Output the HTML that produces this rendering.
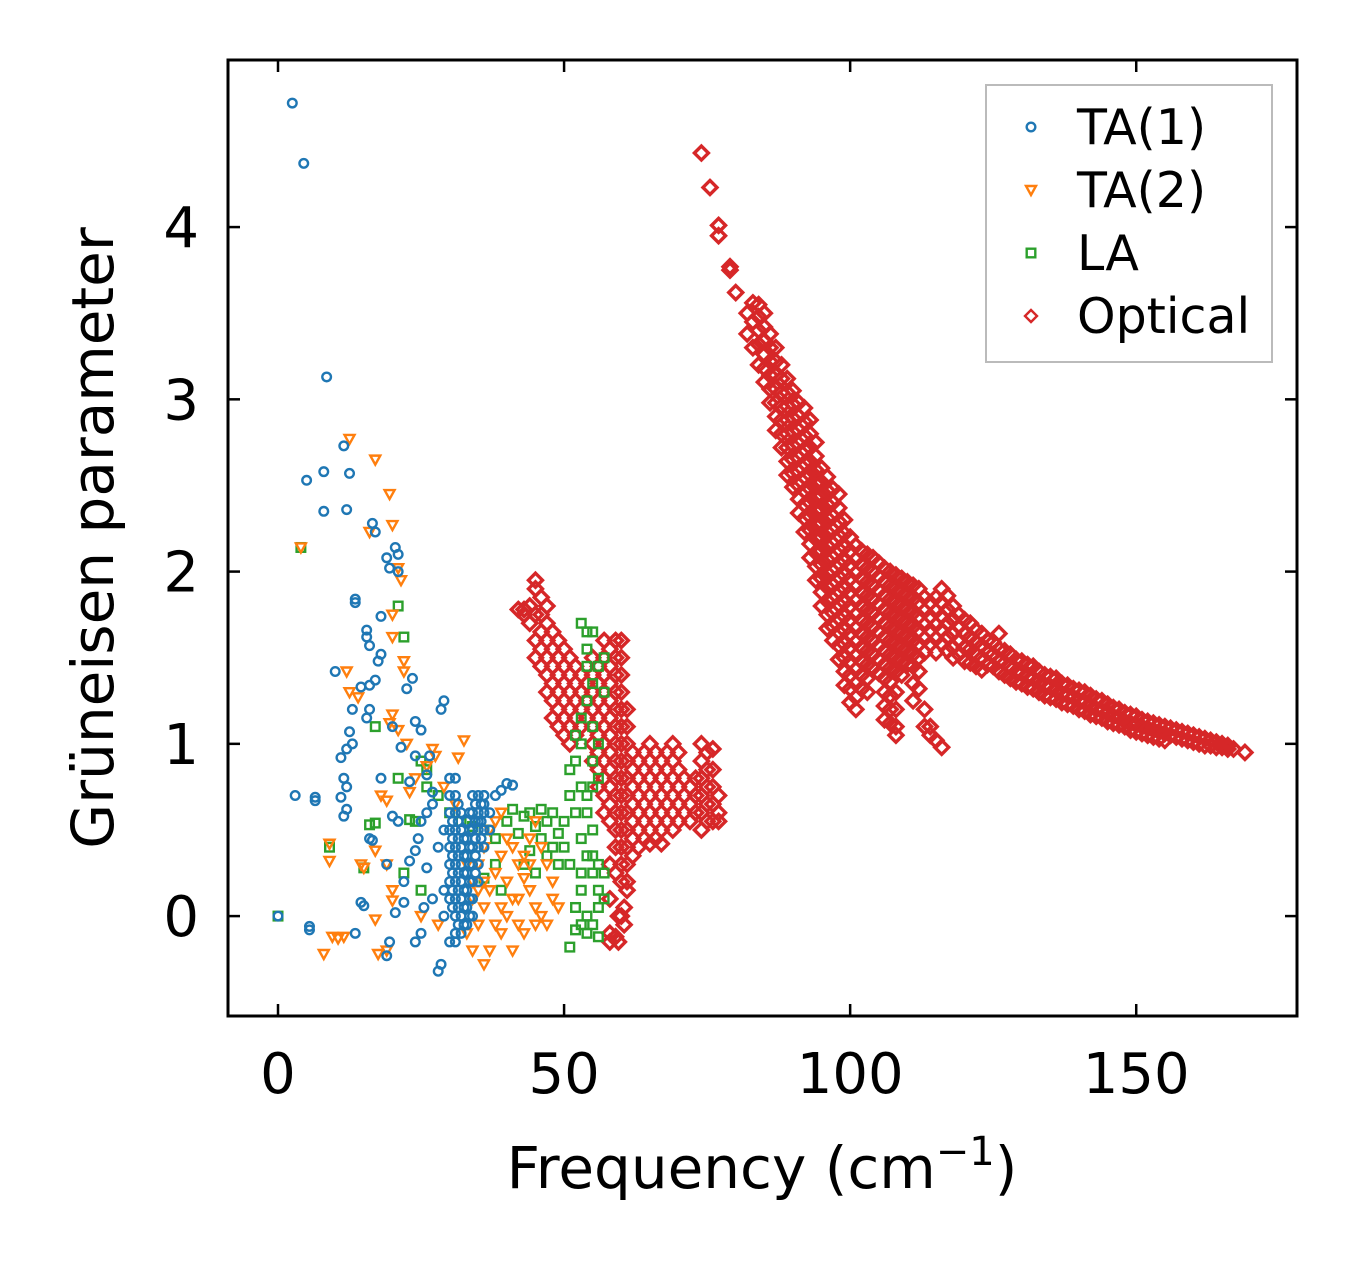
<!DOCTYPE html>
<html><head><meta charset="utf-8"><style>
html,body{margin:0;padding:0;background:#fff;}
svg{display:block;font-family:"DejaVu Sans","Liberation Sans",sans-serif;}
</style></head><body>
<svg id="chart" width="1357" height="1264" viewBox="0 0 1357 1264" xmlns="http://www.w3.org/2000/svg">
<rect width="1357" height="1264" fill="#fff"/>
<g id="marks"></g>
<rect x="228" y="60" width="1069" height="956" fill="none" stroke="#000" stroke-width="3"/>
<g id="axes"></g>
<text x="762" y="1188" font-size="58" text-anchor="middle">Frequency (cm<tspan dy="-23" font-size="40">−1</tspan><tspan dy="23">)</tspan></text>
<text transform="translate(113,538) rotate(-90)" font-size="58" text-anchor="middle">Grüneisen parameter</text>
<g>
<rect x="986" y="85" width="286" height="277" fill="#fff" stroke="#bbb" stroke-width="2"/>
<g id="legend-items"></g>
</g>
</svg>
<script>
const ticksX=[0,50,100,150];
const ticksY=[0,1,2,3,4];
const seriesNames=["TA(1)","TA(2)","LA","Optical"];
const ta1=[[2.5,4.72],[4.5,4.37],[8.5,3.13],[11.5,2.73],[12.5,2.57],[8,2.58],[5,2.53],[8,2.35],[12,2.36],[16.5,2.28],[17,2.23],[20.5,2.14],[21,2.1],[19,2.08],[19.5,2.02],[21,2.0],[13.5,1.84],[13.5,1.82],[18,1.74],[15.5,1.66],[15.5,1.62],[16,1.57],[18,1.52],[17.5,1.48],[10,1.42],[17,1.37],[16,1.34],[14.5,1.33],[23.5,1.38],[22.5,1.32],[29,1.25],[28.5,1.2],[13,1.2],[15.5,1.15],[16,1.2],[20,1.1],[24,1.13],[25,1.08],[12.5,1.07],[13,1.0],[12,0.97],[11,0.92],[21.5,0.98],[24,0.93],[26.5,0.93],[11.5,0.8],[12,0.75],[11,0.69],[12,0.62],[11.5,0.58],[3,0.7],[6.5,0.69],[6.5,0.67],[18,0.8],[23,0.78],[26,0.82],[27,0.72],[27,0.65],[26,0.6],[20,0.58],[21,0.55],[25,0.55],[16,0.45],[16.5,0.44],[24.5,0.45],[24,0.38],[26,0.28],[23,0.32],[19,0.3],[22,0.2],[22,0.08],[14.5,0.08],[15,0.06],[20.5,0.02],[27,0.1],[25.5,0.05],[5.5,-0.06],[5.5,-0.08],[13.5,-0.1],[19.5,-0.15],[19,-0.23],[25,-0.1],[24,-0.15],[28.5,-0.28],[28,-0.32],[30,-0.15],[31,-0.15],[0,0],[40,0.77],[41,0.76],[39,0.73],[38,0.7],[36,0.7],[36,0.65],[35,0.55],[29,0.5],[28,0.4],[29,0.15],[29,0.0]];
const ta1Cols=[[30,[0.1,0.2,0.3,0.4,0.5,0.6,0.7,0.8]],[30.5,[0.05,0.15,0.25,0.35,0.45,0.55]],[31,[-0.1,0.0,0.1,0.2,0.3,0.4,0.5,0.6,0.7,0.8]],[31.5,[-0.05,0.05,0.15,0.25,0.35,0.45,0.55,0.65]],[32,[-0.1,0.0,0.1,0.2,0.3,0.4,0.5,0.6]],[32.5,[-0.05,0.05,0.15,0.25,0.35,0.45]],[33,[-0.05,0.05,0.15,0.25,0.35,0.45,0.55]],[33.5,[0.0,0.1,0.2,0.3,0.4,0.5,0.6]],[34,[0.0,0.1,0.2,0.3,0.4,0.5,0.6,0.7]],[34.5,[0.25,0.35,0.45,0.55,0.65]],[35,[0.2,0.3,0.4,0.5,0.6,0.7]],[35.5,[0.45,0.55,0.65]],[36,[0.4,0.5,0.6,0.7]],[37,[0.5,0.6]]];
const ta2=[[12.5,2.77],[17,2.65],[19.5,2.45],[20,2.27],[16,2.23],[4,2.14],[21,2.02],[21.5,1.95],[20,1.75],[20,1.62],[22,1.48],[22,1.42],[12,1.42],[12.5,1.3],[14,1.27],[20,1.17],[19.5,1.12],[21,1.08],[22.5,1.0],[27,0.97],[27.5,0.93],[26,0.87],[24,0.8],[23,0.72],[18,0.7],[19,0.67],[29,0.75],[31,0.65],[32.5,1.02],[31.5,0.92],[9,0.42],[9,0.32],[17,0.38],[19,0.3],[14.5,0.3],[15,0.28],[20,0.15],[20,0.09],[25,0.0],[17,-0.02],[9.5,-0.12],[11.5,-0.12],[10.5,-0.13],[8,-0.22],[17.5,-0.22],[19,-0.2],[28,-0.05],[33,0.3],[34,0.2],[35,0.3],[36,0.4],[37,0.5],[38,0.55],[39,0.6],[40,0.45],[41,0.4],[42,0.3],[43,0.22],[44,0.15],[45,0.05],[46,0.0],[47,-0.05],[48,0.1],[36,-0.28],[37,-0.2],[39,-0.1],[41,-0.2],[43,-0.1],[45,-0.05],[34,0.1],[35,-0.05],[37,0.15],[38,0.25],[40,0.2],[39,0.05],[42,0.1],[36,0.05],[44,0.3],[46,0.4],[47,0.3],[44,0.45],[39,0.35],[33,-0.1],[34,-0.2],[38,-0.05],[40,0.0],[42,-0.05],[36,0.2],[35,0.15],[41,0.1],[43,0.35],[45,0.55],[48,0.2],[49,0.05]];
const la=[[4,2.14],[21,1.8],[22,1.62],[17,1.1],[25,0.9],[26,0.85],[16,0.53],[17,0.54],[23,0.56],[24,0.55],[21,0.8],[15,0.28],[22,0.25],[25,0.15],[9,0.4],[0,0],[28,0.7],[26,0.75],[30,0.6],[32,0.55],[34,0.52],[36,0.5],[38,0.45],[40,0.55],[41,0.62],[43,0.58],[42,0.48],[44,0.6],[46,0.62],[47,0.55],[48,0.6],[49,0.48],[45,0.52],[46,0.45],[44,0.38],[43,0.3],[45,0.25],[47,0.35],[48,0.4],[49,0.3],[50,0.4],[50,0.55],[51,0.7],[51,0.85],[52,0.9],[52,1.05],[53,1.0],[53,1.7],[54,1.65],[55,1.65],[54,1.55],[54,1.45],[55,1.35],[54,1.25],[53,1.15],[55,1.1],[56,1.0],[56,0.8],[55,0.75],[54,0.7],[54,0.6],[55,0.5],[53,0.45],[55,0.35],[55,0.25],[56,0.15],[57,0.1],[56,0.05],[54,0.0],[53,-0.05],[52,-0.08],[51,-0.18],[52,0.05],[53,0.15],[55,-0.05],[56,-0.12],[54,-0.1],[57,0.25],[56,0.3],[53,0.25],[54,0.35],[51,0.3],[52,0.6],[53,0.75],[57,1.3],[56,1.45],[57,1.5],[55,0.9],[36,0.22],[38,0.3],[39,0.15]];
const opticalCols=[[74,[4.43]],[75.5,[4.23]],[77,[4.01,3.95]],[79,[3.77,3.75]],[80,[3.62]],[82,[3.5,3.38]],[83,[3.56,3.45,3.3]],
[84,[3.55,3.48,3.4,3.32,3.2]],[85,[3.5,3.42,3.34,3.26,3.18,3.1]],[86,[3.38,3.3,3.22,3.14,3.06,2.98]],[87,[3.3,3.22,3.14,3.06,2.98,2.9,2.82]],[88,[3.2,3.12,3.04,2.96,2.88,2.8,2.72]],[89,[3.12,3.04,2.96,2.88,2.8,2.72,2.64,2.56]],[90,[3.05,2.97,2.89,2.81,2.73,2.65,2.57,2.49]],[91,[2.98,2.9,2.82,2.74,2.66,2.58,2.5,2.42,2.34]],[92,[2.95,2.87,2.79,2.71,2.63,2.55,2.47,2.39,2.31,2.23]],[93,[2.88,2.8,2.72,2.64,2.56,2.48,2.4,2.32,2.24,2.16,2.08]],[94,[2.75,2.67,2.59,2.51,2.43,2.35,2.27,2.19,2.11,2.03,1.95]],[95,[2.6,2.52,2.44,2.36,2.28,2.2,2.12,2.04,1.96,1.88,1.8]],[96,[2.55,2.47,2.39,2.31,2.23,2.15,2.07,1.99,1.91,1.83,1.75,1.67]],[97,[2.48,2.4,2.32,2.24,2.16,2.08,2.0,1.92,1.84,1.76,1.68,1.6]],[98,[2.45,2.37,2.29,2.21,2.13,2.05,1.97,1.89,1.81,1.73,1.65,1.57,1.49]],[99,[2.3,2.22,2.14,2.06,1.98,1.9,1.82,1.74,1.66,1.58,1.5,1.42,1.34]],[100,[2.2,2.12,2.04,1.96,1.88,1.8,1.72,1.64,1.56,1.48,1.4,1.32,1.24]],[101,[2.15,2.07,1.99,1.91,1.83,1.75,1.67,1.59,1.51,1.43,1.35,1.27,1.2]],[102,[2.12,2.04,1.96,1.88,1.8,1.72,1.64,1.56,1.48,1.4,1.32]],[103,[2.1,2.02,1.94,1.86,1.78,1.7,1.62,1.54,1.46,1.38,1.3]],[104,[2.08,2.0,1.92,1.84,1.76,1.68,1.6,1.52,1.44]],[105,[2.05,1.97,1.89,1.81,1.73,1.65,1.57,1.49,1.41]],[106,[2.02,1.94,1.86,1.78,1.7,1.62,1.54,1.46,1.38,1.3,1.22,1.14]],[107,[2.0,1.92,1.84,1.76,1.68,1.6,1.52,1.44,1.36,1.28,1.2,1.12]],[108,[1.98,1.9,1.82,1.74,1.66,1.58,1.5,1.42,1.3,1.2,1.1,1.05]],[109,[1.96,1.88,1.8,1.72,1.64,1.56,1.48,1.4]],[110,[1.94,1.86,1.78,1.7,1.62,1.54,1.46]],[111,[1.92,1.84,1.76,1.68,1.6,1.52,1.45,1.35,1.25]],[112,[1.9,1.82,1.74,1.66,1.58,1.5,1.42,1.32]],[113,[1.85,1.77,1.69,1.61,1.53,1.2,1.1]],[114,[1.82,1.74,1.66,1.58,1.1,1.05]],[115,[1.85,1.77,1.69,1.61,1.53,1.02]],[116,[1.9,1.82,1.74,1.66,1.58,0.98]],[117,[1.86,1.78,1.7,1.62,1.54]],[118,[1.8,1.72,1.64,1.56,1.5]],[119,[1.75,1.68,1.6,1.52]],[120,[1.72,1.64,1.56,1.48]],[121,[1.7,1.62,1.55,1.47]],[122,[1.66,1.59,1.52,1.45]],[123,[1.64,1.57,1.5,1.43]],[124,[1.6,1.53,1.46]],[125,[1.59,1.52,1.45]],[126,[1.64,1.55,1.48,1.42]],[127,[1.54,1.47,1.4]],[128,[1.52,1.45,1.38]],[129,[1.49,1.42,1.36]],[130,[1.48,1.41,1.35]],[131,[1.46,1.39,1.33]],[132,[1.45,1.38,1.32]],[133,[1.42,1.36,1.3]],[134,[1.4,1.34,1.28]],[135,[1.39,1.33,1.27]],[136,[1.38,1.31,1.26]],[137,[1.35,1.29,1.24]],[138,[1.34,1.28,1.23]],[139,[1.32,1.27,1.22]],[140,[1.31,1.25,1.2]],[141,[1.3,1.24,1.19]],[142,[1.28,1.22,1.17]],[143,[1.26,1.2,1.16]],[144,[1.25,1.19,1.15]],[145,[1.23,1.18,1.13]],[146,[1.21,1.16,1.12]],[147,[1.2,1.15,1.11]],[148,[1.18,1.13,1.1]],[149,[1.17,1.12,1.08]],[150,[1.16,1.11,1.07]],[151,[1.14,1.1,1.06]],[152,[1.13,1.09,1.05]],[153,[1.12,1.08,1.04]],[154,[1.11,1.07,1.03]],[155,[1.1,1.06,1.02]],[156,[1.09,1.05]],[157,[1.08,1.04]],[158,[1.07,1.03]],[159,[1.06,1.02]],[160,[1.05,1.01]],[161,[1.04,1.0]],[162,[1.03,0.99]],[163,[1.02,0.99]],[164,[1.01,0.98]],[165,[1.0,0.98]],[166,[0.99,0.97]],[167,[0.97]],[169,[0.95]],
[42,[1.78]],[43,[1.78,1.75]],[44,[1.8,1.7]],[45,[1.95,1.9,1.75,1.6,1.5]],[46,[1.85,1.75,1.65,1.55,1.45]],[47,[1.8,1.7,1.6,1.5,1.4,1.3]],[48,[1.65,1.55,1.45,1.35,1.25,1.15]],[49,[1.6,1.5,1.4,1.3,1.2,1.1]],[50,[1.55,1.45,1.35,1.25,1.15,1.05]],[51,[1.5,1.4,1.3,1.2,1.1,1.0]],[52,[1.45,1.35,1.25,1.15,1.05]],[53,[1.4,1.3,1.2,1.1]],[54,[1.35,1.25,1.15]],[55,[1.5,1.4,1.3,1.2,1.1,1.0,0.9]],[56,[1.45,1.35,1.25,1.15,1.05,0.95,0.85,0.75]],[57,[1.6,1.5,1.4,1.3,1.2,1.1,1.0,0.9,0.8,0.7,0.6]],[58,[1.55,1.45,1.35,1.25,1.15,1.05,0.95,0.85,0.75,0.65,0.55,0.3,0.1,-0.1,-0.15]],[59,[1.6,1.5,1.4,1.3,1.2,1.1,1.0,0.9,0.8,0.7,0.6,0.5,0.4,0.25,-0.12]],[60,[1.6,1.5,1.4,1.3,1.2,1.1,1.0,0.9,0.8,0.7,0.6,0.5,0.4,0.3,0.2,0.0]],[61,[1.2,1.1,1.0,0.9,0.8,0.7,0.6,0.5,0.4,0.3,0.2,0.15]],[62,[0.95,0.85,0.75,0.65,0.55,0.45,0.35]],[63,[0.9,0.8,0.7,0.6,0.5,0.4]],[64,[0.95,0.85,0.75,0.65,0.55,0.45]],[65,[1.0,0.9,0.8,0.7,0.6,0.5,0.42]],[66,[0.95,0.85,0.75,0.65,0.55,0.45]],[67,[0.9,0.8,0.7,0.6,0.5,0.42]],[68,[0.95,0.85,0.75,0.65,0.55]],[69,[1.0,0.9,0.8,0.7,0.6,0.5]],[70,[0.95,0.85,0.75,0.65,0.55]],[71,[0.8,0.7,0.6]],[72,[0.75,0.65,0.55]],[73,[0.8,0.7,0.6]],[74,[1.0,0.9,0.8,0.7,0.6,0.5]],[75,[0.95,0.85,0.75,0.65,0.55]],[76,[0.97,0.85,0.75,0.65,0.55]],[77,[0.7,0.6,0.55]],[59.5,[-0.15,0.0]],[60.5,[0.05,-0.05]]];

const NS="http://www.w3.org/2000/svg";
const X0=228,X1=1297,Y0=60,Y1=1016;
const xMin=-8.74,xMax=178.1,yMin=-0.58,yMax=4.97;
function sx(v){return X0+(v-xMin)/(xMax-xMin)*(X1-X0);}
function sy(v){return Y1-(v-yMin)/(yMax-yMin)*(Y1-Y0);}
function mk(tag,attrs,parent){const e=document.createElementNS(NS,tag);for(const k in attrs)e.setAttribute(k,attrs[k]);parent.appendChild(e);return e;}
const colors=["#1f77b4","#ff7f0e","#2ca02c","#d62728"];
function marker(kind,cx,cy,parent,name,big){
  let e;
  const c=colors[kind];
  if(kind===0) e=mk("circle",{cx:cx,cy:cy,r:4.3,fill:"none",stroke:c,"stroke-width":2.4},parent);
  else if(kind===1) e=mk("polygon",{points:`${cx-5},${cy-4} ${cx+5},${cy-4} ${cx},${cy+5}`,fill:"none",stroke:c,"stroke-width":2.4},parent);
  else if(kind===2) e=mk("rect",{x:cx-4.3,y:cy-4.3,width:8.6,height:8.6,fill:"none",stroke:c,"stroke-width":2.4},parent);
  else { const s=big?7:6; e=mk("polygon",{points:`${cx},${cy-s} ${cx+s},${cy} ${cx},${cy+s} ${cx-s},${cy}`,fill:"none",stroke:c,"stroke-width":big?3.4:2.4},parent); }
  
  
  return e;
}
const marks=document.getElementById("marks");
function drawPts(kind,pts,name){for(const p of pts)marker(kind,sx(p[0]),sy(p[1]),marks,name,false);}
function drawCols(kind,cols,name){for(const c of cols)for(const y of c[1])marker(kind,sx(c[0]),sy(y),marks,name,kind===3);}
drawCols(3,opticalCols,'optical-point');
drawPts(2,la,'la-point');
drawPts(1,ta2,'ta2-point');
drawPts(0,ta1,'ta1-point');
drawCols(0,ta1Cols,'ta1-point');

const axes=document.getElementById("axes");
for(const t of ticksX){
  const x=sx(t);
  const a=mk("line",{x1:x,x2:x,y1:Y1,y2:Y1-12,stroke:"#000","stroke-width":2.5},axes);
  
  
  const b=mk("line",{x1:x,x2:x,y1:Y0,y2:Y0+12,stroke:"#000","stroke-width":2.5},axes);
  
  
  const l=mk("text",{x:x,y:1093,"font-size":56,"text-anchor":"middle"},axes);
  l.textContent=String(t);
  
  
}
for(const t of ticksY){
  const y=sy(t);
  const a=mk("line",{x1:X0,x2:X0+12,y1:y,y2:y,stroke:"#000","stroke-width":2.5},axes);
  
  
  const b=mk("line",{x1:X1,x2:X1-12,y1:y,y2:y,stroke:"#000","stroke-width":2.5},axes);
  
  
  const l=mk("text",{x:199,y:y+20,"font-size":56,"text-anchor":"end"},axes);
  l.textContent=String(t);
  
  
}
const leg=document.getElementById("legend-items");
seriesNames.forEach((n,i)=>{
  const y=127+i*63;
  const g=mk("g",{},leg);
  
  
  marker(i,1031,y,g,'legend-marker',false);
  const t=mk("text",{x:1077,y:y+17,"font-size":49},g);
  t.textContent=n;
  
  
});
</script>
</body></html>
